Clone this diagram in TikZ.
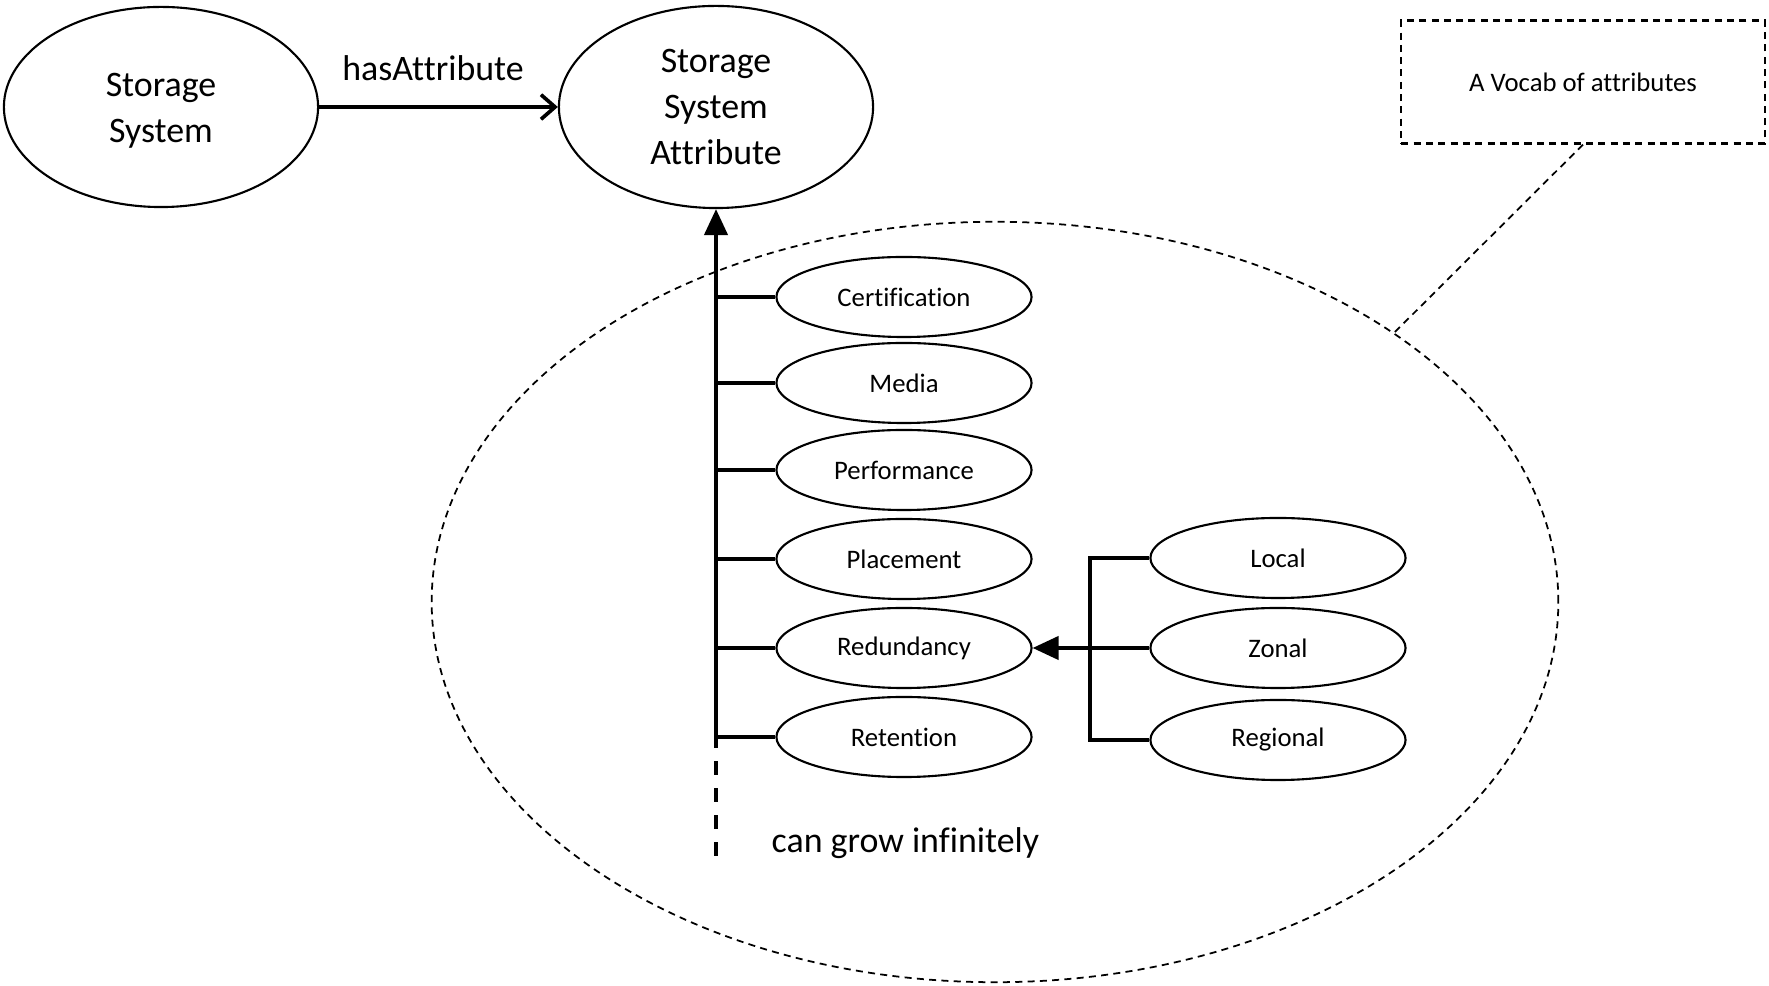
\documentclass[tikz,border=0pt]{standalone}
\usepackage{fontspec}
\setmainfont{Carlito}[Ligatures={NoCommon,NoContextual}]
\usetikzlibrary{shapes.geometric,arrows.meta}

\begin{document}
\begin{tikzpicture}[x=0.01cm,y=-0.01cm,
  bigoval/.style={ellipse, draw, line width=0.6pt, inner sep=0pt,
    minimum width=3.14cm, minimum height=2.0cm, align=center,
    font=\fontsize{10.2}{13.2}\selectfont},
  smalloval/.style={ellipse, draw, line width=0.6pt, inner sep=0pt,
    minimum width=2.55cm, minimum height=0.80cm,
    font=\fontsize{7.6}{9}\selectfont},
  link/.style={line width=1.05pt},
  bigtext/.style={font=\fontsize{10.2}{13.2}\selectfont, inner sep=0pt},
  smalltext/.style={font=\fontsize{7.6}{9}\selectfont, inner sep=0pt},
  fine dash/.style={line width=0.5pt, dash pattern=on 2pt off 1.5pt},
  filled tip/.style={-{Triangle[length=7.4pt,width=6.6pt]}}
]
\useasboundingbox (0,0) rectangle (1769,986);

% vocabulary region and its note
\node[draw, ellipse, fine dash, inner sep=0pt,
      minimum width=11.26cm, minimum height=7.60cm] (vocab) at (995,602) {};
\node[draw, fine dash, line width=0.6pt, minimum width=3.63cm, minimum height=1.23cm,
      inner sep=0pt] (note) at (1583,82) {};
\node[smalltext, anchor=base] (notetext) at (1583,92) {A Vocab of attributes};
\draw[fine dash] (note.south) -- (vocab.34);

% top level classes
\node[bigoval] (sys) at (161,107) {};
\node[bigtext, align=center] (systext) at (161,111) {Storage\\System};
\node[bigoval, minimum height=2.02cm] (attr) at (716,107) {Storage\\System\\Attribute};
\draw[link, -{Straight Barb[length=4pt,width=7pt]}] (sys) -- (attr);
\node[bigtext, anchor=base] (rel) at (433,81) {hasAttribute};

% attribute kinds
\node[smalloval] (cert) at (904,297) {Certification};
\node[smalloval] (media) at (904,383) {Media};
\node[smalloval] (perf) at (904,470) {Performance};
\node[smalloval] (place) at (904,559) {Placement};
\node[smalloval] (red) at (904,648) {Redundancy};
\node[smalloval] (ret) at (904,737) {Retention};

% spine
\coordinate (spinebot) at (716,748);
\coordinate (spineend) at (716,857);
\draw[link, filled tip] (spinebot) -- (attr.south);
\draw[link, dash pattern=on 0.14cm off 0.13cm, dash phase=0.14cm] (spinebot) -- (spineend);
\foreach \n in {cert,media,perf,place,red,ret}
  \draw[link] (\n.west -| spinebot) -- (\n.west);
\node[bigtext, anchor=base west] (grow) at (771,853) {can grow infinitely};

% redundancy kinds
\node[smalloval] (local) at (1278,558) {Local};
\node[smalloval] (zonal) at (1278,648) {Zonal};
\node[smalloval] (regional) at (1278,740) {Regional};
\coordinate (fork) at (1090,648);
\draw[link] (local.west) -| (regional.west -| fork) -- (regional.west);
\draw[link] (zonal.west) -- (fork);
\draw[link, filled tip] (fork) -- (red.east);
\end{tikzpicture}
\end{document}
